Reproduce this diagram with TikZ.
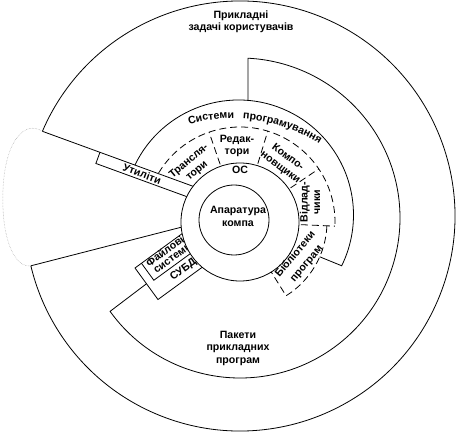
\documentclass[tikz,border=0pt]{standalone}
\usepackage{fontspec}
\setmainfont{Liberation Sans}
\usetikzlibrary{decorations.text}

\newcommand{\lblfont}{\fontsize{10.6}{12.5}\selectfont\bfseries}

\begin{document}
\begin{tikzpicture}[x=1pt,y=-1pt,line width=0.8pt,
      lbl/.style={font=\lblfont,align=center,inner sep=0pt},
      part/.style={dash pattern=on 7pt off 4pt},
      gap/.style={densely dotted,line width=0.5pt,black!35},
      arctext/.style={decorate,decoration={text along path,text align=left,text={#1}}}]
  \useasboundingbox (0,0) rectangle (456,433);
  \coordinate (all) at (240,216);
  \coordinate (pk) at (240,218);
  \coordinate (sp) at (238.5,215);
  \coordinate (os) at (240,222);
  \coordinate (hw) at (234,220);
  \coordinate (tc) at (231.5,282.5);

  % outer ring, opened on the left
  \draw ([shift={(-156.8:215)}]all) coordinate (ut0)
        arc[start angle=-156.8,end angle=166.6,radius=215] coordinate (pk0);
  \draw[gap] (ut0) .. controls (25,120) and (5,140) .. (3,190)
                   .. controls (1,240) and (15,268) .. (pk0);
  \draw (ut0) -- ++(20.05:165);
  \draw (pk0) -- ++(-14.4:162);

  % utilities
  \begin{scope}[shift={(100,152.2)},rotate=-20.05]
    \draw (0,0) -- (0,12) -- (100,12);
    \node[lbl,transform shape] (util) at (47,6) {Утиліти};
  \end{scope}

  % file systems and DBMS
  \begin{scope}[shift={(135,268)},rotate=36.1]
    \draw (75,0) -- (0,0) -- (0,39) -- (75,39);
    \draw (8,0) -- (8,21) -- (75,21);
    \coordinate (db) at (0,19.5);
    \node[lbl,transform shape] (fs1) at (34,4) {Файлові};
    \node[lbl,transform shape] (fs2) at (36,14.5) {системи};
    \node[lbl,transform shape] (dbms) at (38,30) {СУБД};
  \end{scope}

  % application packages
  \draw (db) -- ([shift={(144.3:160)}]pk)
        arc[start angle=144.3,end angle=-87.1,radius=160] -- ++(0,42.2);

  % programming systems
  \draw ([shift={(-154.2:115)}]sp) arc[start angle=-154.2,end angle=26.2,radius=115] -- ++(-22,-9);
  \path[arctext={|\lblfont|Системи}] ([shift={(-105:164)}]tc) arc[start angle=-105,end angle=-84,radius=164];
  \path[arctext={|\lblfont|програмування}] ([shift={(-86:164)}]tc) arc[start angle=-86,end angle=-48,radius=164];

  % dashed sectors round the OS
  \draw[part] ([shift={(-149:95)}]os) arc[start angle=-149,end angle=2.5,radius=95];
  \foreach \a in {-109,-73,-34,2.5}
    \draw[part] ([shift={(\a:50)}]os) -- ([shift={(\a:95)}]os);
  \draw[part] ([shift={(2.5:87)}]os) arc[start angle=2.5,end angle=58,radius=87]
        -- ([shift={(58:50)}]os);

  \draw[fill=white] (os) circle[radius=59];
  \draw (hw) circle[radius=35];

  \node[lbl] (tasks) at (241,22) {Прикладні\\задачі користувачів};
  \node[lbl] (apps) at (238,348) {Пакети\\прикладних\\програм};
  \node[lbl] (hwl) at (238,216.5) {Апаратура\\компа};
  \node[lbl] (osl) at (240,170) {ОС};
  \node[lbl,rotate=40] (tr) at (193,166) {Трансля-\\тори};
  \node[lbl] (ed) at (237,146) {Редак-\\тори};
  \node[lbl,rotate=-37] (lnk) at (284,162.5) {Компо-\\новщики};
  \node[lbl,rotate=90] (dbg) at (310,202) {Відлад-\\чики};
  \node[lbl,rotate=50,font=\fontsize{10.6}{14.5}\selectfont\bfseries] (lib) at (301,259) {Бібліотеки\\програм};
\end{tikzpicture}
\end{document}
